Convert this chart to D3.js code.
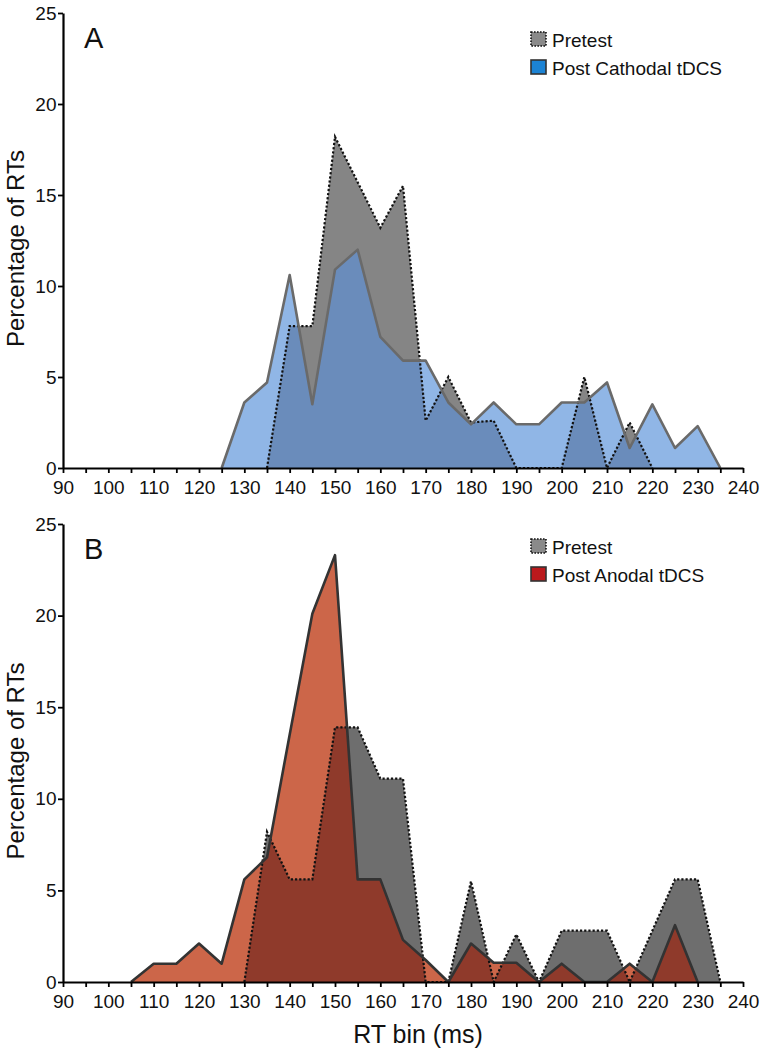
<!DOCTYPE html>
<html>
<head>
<meta charset="utf-8">
<script src="https://cdn.jsdelivr.net/npm/d3@7"></script>
<style>
  html, body { margin: 0; padding: 0; background: #fff; }
  svg { display: block; font-family: "Liberation Sans", Arial, sans-serif; }
</style>
</head>
<body>
<svg id="chart" width="760" height="1050"></svg>
<script>
// ---- data ----
const bins = [90,95,100,105,110,115,120,125,130,135,140,145,150,155,160,165,170,175,180,185,190,195,200,205,210,215,220,225,230,235,240];
const xTickLabels = [90,100,110,120,130,140,150,160,170,180,190,200,210,220,230,240];
const yTicks = [0,5,10,15,20,25];

// Panel A
const pretestA = [null,null,null,null,null,null,null,null,null,0,7.8,7.8,18.2,15.7,13.2,15.5,2.6,5.0,2.5,2.6,0,0,0,5.0,0,2.5,0,null,null,null,null];
const cathodalA = [null,null,null,null,null,null,null,0,3.6,4.7,10.6,3.5,10.9,12.0,7.2,5.9,5.9,3.6,2.4,3.6,2.4,2.4,3.6,3.6,4.7,1.1,3.5,1.1,2.3,0,null];
// Panel B
const pretestB = [null,null,null,null,null,null,null,null,0,8.2,5.6,5.6,13.9,13.9,11.1,11.1,0,0,5.5,0,2.6,0,2.8,2.8,2.8,0,2.8,5.6,5.6,0,null];
const anodalB = [null,null,null,0,1.0,1.0,2.1,1.0,5.6,6.8,13.5,20.1,23.3,5.6,5.6,2.3,1.2,0,2.1,1.05,1.05,0,1.0,0,0,1.0,0,3.1,0,null,null];

const panels = [
  {id:"A", letter:"A", top:13, bottom:468, pre:pretestA, post:cathodalA,
   postLabel:"Post Cathodal tDCS",
   light:"#90b6e6", dark:"#6a8cbb", gray:"#858585", postLine:"#6a6a6a", swatch:"#1c83d4",
   legendY:32},
  {id:"B", letter:"B", top:524, bottom:982, pre:pretestB, post:anodalB,
   postLabel:"Post Anodal tDCS",
   light:"#cc6649", dark:"#8f3a2b", gray:"#6e6e6e", postLine:"#333333", swatch:"#bb191c",
   legendY:539}
];

const svg = d3.select("#chart");
svg.append("rect").attr("width",760).attr("height",1050).attr("fill","#fff");

const x = d3.scaleLinear().domain([90,240]).range([63,743]);

panels.forEach(p => {
  const y = d3.scaleLinear().domain([0,25]).range([p.bottom, p.top]);
  const g = svg.append("g");

  const pre = bins.map((b,i)=>({b, v:p.pre[i]}));
  const post = bins.map((b,i)=>({b, v:p.post[i]}));

  const area = d3.area().defined(d=>d.v!=null)
    .x(d=>x(d.b)).y0(y(0)).y1(d=>y(d.v));
  const line = d3.line().defined(d=>d.v!=null)
    .x(d=>x(d.b)).y(d=>y(d.v));

  g.append("clipPath").attr("id","clip"+p.id)
    .append("path").attr("d", area(pre));

  // post fill (light), pretest fill (gray), overlap (dark)
  g.append("path").attr("d", area(post)).attr("fill", p.light);
  g.append("path").attr("d", area(pre)).attr("fill", p.gray);
  g.append("path").attr("d", area(post)).attr("fill", p.dark)
    .attr("clip-path","url(#clip"+p.id+")");

  // lines
  g.append("path").attr("d", line(pre)).attr("fill","none")
    .attr("stroke","#111").attr("stroke-width",2.2)
    .attr("stroke-dasharray","2.2,2");
  g.append("path").attr("d", line(post)).attr("fill","none")
    .attr("stroke", p.postLine).attr("stroke-width",2.6)
    .attr("stroke-linejoin","round");

  // axes
  const xAxis = d3.axisBottom(x)
    .tickValues(bins)
    .tickSize(5).tickSizeOuter(0).tickPadding(8)
    .tickFormat(d => xTickLabels.includes(d) ? d : "");
  const gx = svg.append("g").attr("transform",`translate(0,${p.bottom})`).call(xAxis);
  gx.select(".domain").attr("stroke","#000").attr("stroke-width",2.2);
  gx.selectAll(".tick line").attr("stroke","#000").attr("stroke-width",1.8);
  gx.selectAll("text").attr("font-size",19).attr("fill","#111")
    .attr("font-family","Liberation Sans, Arial, sans-serif");

  const yAxis = d3.axisLeft(y).tickValues(yTicks)
    .tickSize(5).tickSizeOuter(0).tickPadding(1.5);
  const gy = svg.append("g").attr("transform",`translate(63,0)`).call(yAxis);
  gy.select(".domain").attr("stroke","#000").attr("stroke-width",2.2);
  gy.selectAll(".tick line").attr("stroke","#000").attr("stroke-width",1.8);
  gy.selectAll("text").attr("font-size",19).attr("fill","#111")
    .attr("font-family","Liberation Sans, Arial, sans-serif");

  // y title
  svg.append("text")
    .attr("transform",`translate(24,${(p.top+p.bottom)/2 + 8}) rotate(-90)`)
    .attr("text-anchor","middle").attr("font-size",24).attr("fill","#111")
    .text("Percentage of RTs");

  // panel letter
  svg.append("text").attr("x",84).attr("y",p.top+35)
    .attr("font-size",29).attr("fill","#111").text(p.letter);

  // legend
  const lg = svg.append("g").attr("transform",`translate(531,${p.legendY})`);
  lg.append("rect").attr("x",0).attr("y",0).attr("width",15).attr("height",14)
    .attr("fill","#8a8a8a").attr("stroke","#111").attr("stroke-width",1.6)
    .attr("stroke-dasharray","1.6,1.4");
  lg.append("text").attr("x",21).attr("y",15).attr("font-size",19).attr("fill","#111")
    .text("Pretest");
  lg.append("rect").attr("x",0).attr("y",28).attr("width",15).attr("height",14)
    .attr("fill",p.swatch).attr("stroke","#333").attr("stroke-width",1.6);
  lg.append("text").attr("x",21).attr("y",43).attr("font-size",19).attr("fill","#111")
    .text(p.postLabel);
});

// x title
svg.append("text").attr("x",418).attr("y",1043)
  .attr("text-anchor","middle").attr("font-size",25).attr("fill","#111")
  .text("RT bin (ms)");
</script>
</body>
</html>
